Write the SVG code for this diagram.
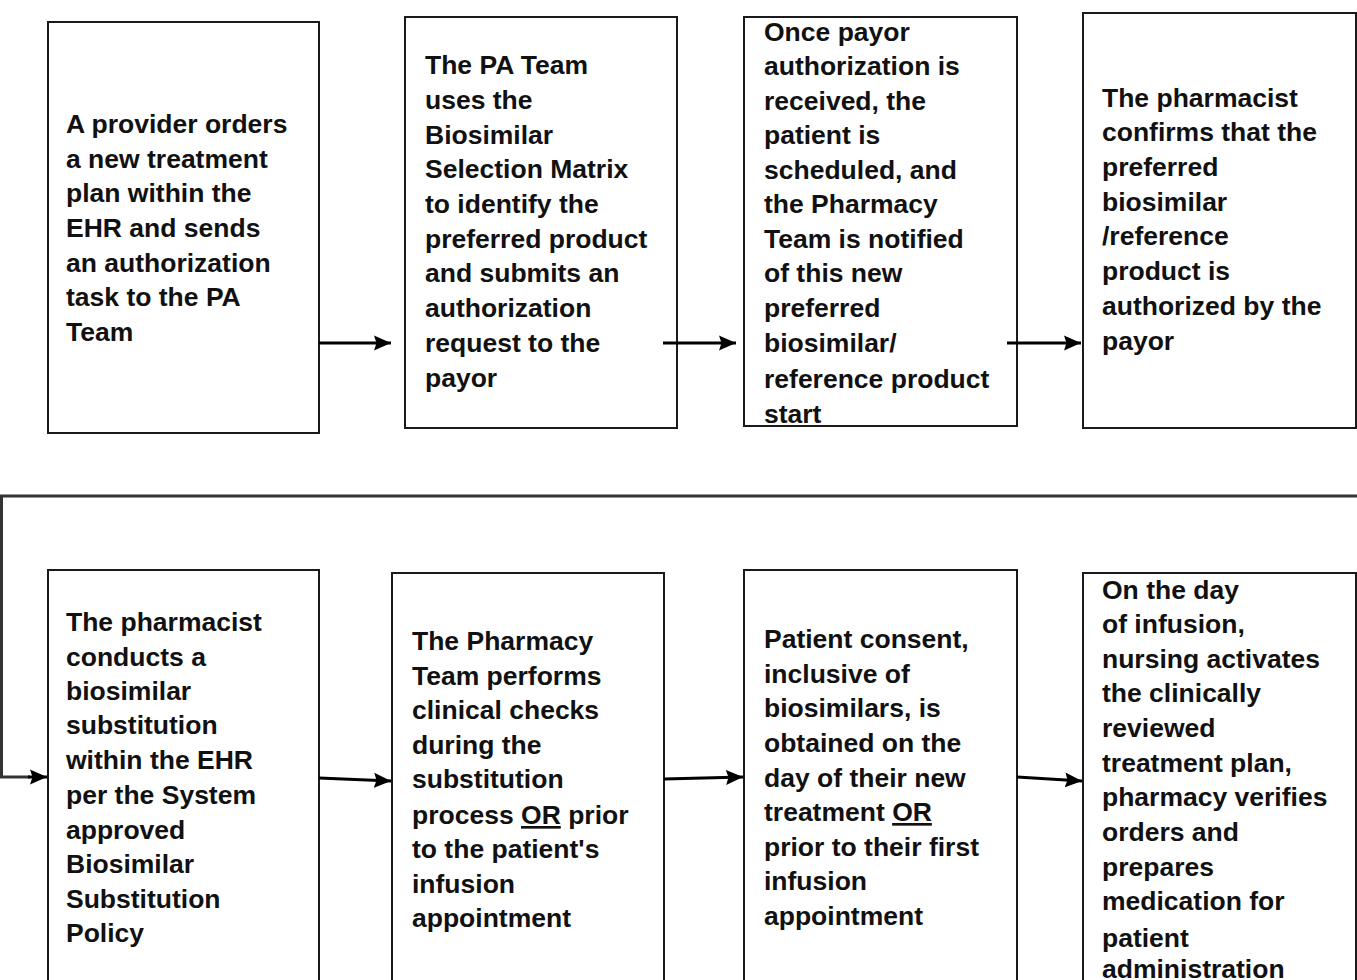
<svg xmlns="http://www.w3.org/2000/svg" width="1357" height="980" viewBox="0 0 1357 980">
<defs>
<marker id="ah" markerWidth="18" markerHeight="16" refX="17" refY="8" orient="auto" markerUnits="userSpaceOnUse">
<path d="M0,0.5 L17,8 L0,15.5 L2.5,8 Z" fill="#000"/>
</marker>
<style>
.box{fill:#fff;stroke:#1a1a1a;stroke-width:2}
.t{font-family:"Liberation Sans",Arial,sans-serif;font-weight:bold;font-size:26.5px;fill:#111}
.c{fill:none;stroke:#000;stroke-width:3}
.long{fill:none;stroke:#333;stroke-width:3}
</style>
</defs>
<rect width="1357" height="980" fill="#fff"/>

<g id="node1">
<rect class="box" x="48" y="22" width="271" height="411"/>
<text class="t"><tspan x="66" y="133">A provider orders</tspan><tspan x="66" y="168">a new treatment</tspan><tspan x="66" y="202">plan within the</tspan><tspan x="66" y="237">EHR and sends</tspan><tspan x="66" y="272">an authorization</tspan><tspan x="66" y="306">task to the PA</tspan><tspan x="66" y="341">Team</tspan></text>
</g>

<g id="node2">
<rect class="box" x="405" y="17" width="272" height="411"/>
<text class="t"><tspan x="425" y="74">The PA Team</tspan><tspan x="425" y="109">uses the</tspan><tspan x="425" y="144">Biosimilar</tspan><tspan x="425" y="178">Selection Matrix</tspan><tspan x="425" y="213">to identify the</tspan><tspan x="425" y="248">preferred product</tspan><tspan x="425" y="282">and submits an</tspan><tspan x="425" y="317">authorization</tspan><tspan x="425" y="352">request to the</tspan><tspan x="425" y="387">payor</tspan></text>
</g>

<g id="node3">
<rect class="box" x="744" y="17" width="273" height="409"/>
<text class="t"><tspan x="764" y="41">Once payor</tspan><tspan x="764" y="75">authorization is</tspan><tspan x="764" y="110">received, the</tspan><tspan x="764" y="144">patient is</tspan><tspan x="764" y="179">scheduled, and</tspan><tspan x="764" y="213">the Pharmacy</tspan><tspan x="764" y="248">Team is notified</tspan><tspan x="764" y="282">of this new</tspan><tspan x="764" y="317">preferred</tspan><tspan x="764" y="352">biosimilar/</tspan><tspan x="764" y="388">reference product</tspan><tspan x="764" y="423">start</tspan></text>
</g>

<g id="node4">
<rect class="box" x="1083" y="13" width="273" height="415"/>
<text class="t"><tspan x="1102" y="107">The pharmacist</tspan><tspan x="1102" y="141">confirms that the</tspan><tspan x="1102" y="176">preferred</tspan><tspan x="1102" y="211">biosimilar</tspan><tspan x="1102" y="245">/reference</tspan><tspan x="1102" y="280">product is</tspan><tspan x="1102" y="315">authorized by the</tspan><tspan x="1102" y="350">payor</tspan></text>
</g>

<g id="node5">
<rect class="box" x="48" y="570" width="271" height="420"/>
<text class="t"><tspan x="66" y="631">The pharmacist</tspan><tspan x="66" y="666">conducts a</tspan><tspan x="66" y="700">biosimilar</tspan><tspan x="66" y="734">substitution</tspan><tspan x="66" y="769">within the EHR</tspan><tspan x="66" y="804">per the System</tspan><tspan x="66" y="839">approved</tspan><tspan x="66" y="873">Biosimilar</tspan><tspan x="66" y="908">Substitution</tspan><tspan x="66" y="942">Policy</tspan></text>
</g>

<g id="node6">
<rect class="box" x="392" y="573" width="272" height="417"/>
<text class="t"><tspan x="412" y="650">The Pharmacy</tspan><tspan x="412" y="685">Team performs</tspan><tspan x="412" y="719">clinical checks</tspan><tspan x="412" y="754">during the</tspan><tspan x="412" y="788">substitution</tspan><tspan x="412" y="824">process <tspan text-decoration="underline">OR</tspan> prior</tspan><tspan x="412" y="858">to the patient's</tspan><tspan x="412" y="893">infusion</tspan><tspan x="412" y="927">appointment</tspan></text>
</g>

<g id="node7">
<rect class="box" x="744" y="570" width="273" height="420"/>
<text class="t"><tspan x="764" y="648">Patient consent,</tspan><tspan x="764" y="683">inclusive of</tspan><tspan x="764" y="717">biosimilars, is</tspan><tspan x="764" y="752">obtained on the</tspan><tspan x="764" y="787">day of their new</tspan><tspan x="764" y="821">treatment <tspan text-decoration="underline">OR</tspan></tspan><tspan x="764" y="856">prior to their first</tspan><tspan x="764" y="890">infusion</tspan><tspan x="764" y="925">appointment</tspan></text>
</g>

<g id="node8">
<rect class="box" x="1083" y="573" width="273" height="417"/>
<text class="t"><tspan x="1102" y="599">On the day</tspan><tspan x="1102" y="633">of infusion,</tspan><tspan x="1102" y="668">nursing activates</tspan><tspan x="1102" y="702">the clinically</tspan><tspan x="1102" y="737">reviewed</tspan><tspan x="1102" y="772">treatment plan,</tspan><tspan x="1102" y="806">pharmacy verifies</tspan><tspan x="1102" y="841">orders and</tspan><tspan x="1102" y="876">prepares</tspan><tspan x="1102" y="910">medication for</tspan><tspan x="1102" y="947">patient</tspan><tspan x="1102" y="978">administration</tspan></text>
</g>

<g id="connectors">
<line class="c" x1="319" y1="343" x2="391" y2="343" marker-end="url(#ah)"/>
<line class="c" x1="663" y1="343" x2="736" y2="343" marker-end="url(#ah)"/>
<line class="c" x1="1007" y1="343" x2="1081" y2="343" marker-end="url(#ah)"/>
<polyline class="long" points="1357,496 1.5,496 1.5,777 30,777"/>
<line class="c" x1="28" y1="777" x2="47" y2="777" marker-end="url(#ah)"/>
<line class="c" x1="319" y1="778" x2="391" y2="781" marker-end="url(#ah)"/>
<line class="c" x1="664" y1="779" x2="743" y2="777" marker-end="url(#ah)"/>
<line class="c" x1="1017" y1="777" x2="1082" y2="781" marker-end="url(#ah)"/>
</g>
</svg>
